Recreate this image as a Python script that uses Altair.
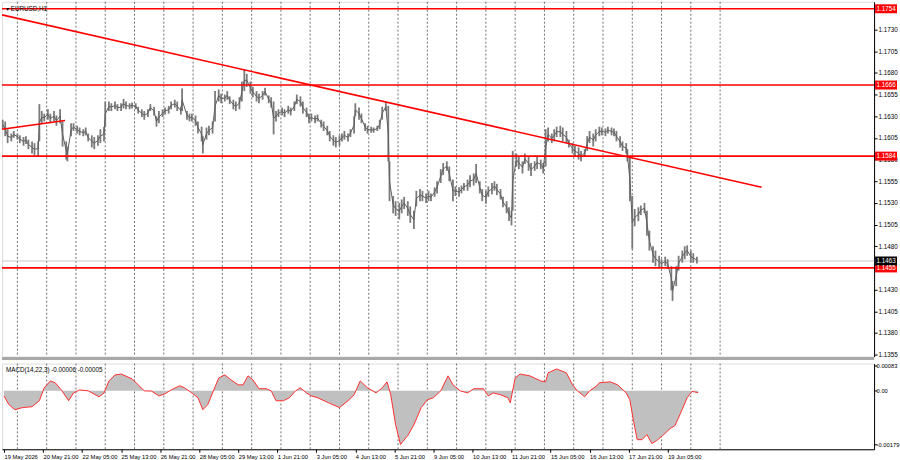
import altair as alt
import pandas as pd

# ---------------- data ----------------
# bar index 0 = 19 May 2026 13:00, one bar = one trading hour (H1)
bars = [-1, 1, 3, 6, 8, 11, 13, 16, 18, 20, 23, 25, 28, 29, 31, 33, 36, 38, 41, 43,
        46, 48, 51, 52, 55, 57, 60, 62, 65, 67, 69, 72, 74, 77, 79, 82, 83, 86, 88, 91,
        93, 96, 98, 100, 103, 105, 108, 110, 113, 115, 118, 120, 123, 125, 127, 130, 132, 135, 137, 140,
        142, 145, 146, 150, 152, 154, 157, 159, 162, 163, 166, 168, 171, 173, 176, 178, 181, 183, 185, 188,
        190, 193, 195, 197, 199, 202, 204, 207, 209, 212, 214, 217, 219, 221, 223, 225, 228, 230, 233, 235,
        238, 240, 243, 245, 248, 250, 252, 255, 257, 260, 262, 265, 267, 270, 272, 275, 277, 279, 282, 284,
        287, 288, 291, 293, 296, 298, 301, 303, 306, 308, 310, 313, 315, 316, 319, 321, 324, 326, 328, 331,
        333, 336, 338, 341, 343, 346, 348, 350, 353, 355, 358, 360, 363, 365, 368, 370, 373, 375, 377, 380,
        382, 385, 387, 390, 392, 395, 397, 400, 402, 404, 407, 409, 412, 414, 416, 417, 420, 422, 425, 427,
        430, 432, 435, 437, 440, 442, 444, 446, 449, 451, 453, 456, 458, 461, 463, 466, 468, 471, 473, 476,
        478, 480, 483, 485, 488, 490, 493, 495, 498, 500, 502, 505, 507, 510, 511, 513, 515, 517, 520, 522,
        525, 527, 529, 532, 534, 537, 539, 542, 544, 547, 548, 551, 553, 556, 558, 560, 563, 565, 568]

highs = [1.1626, 1.1624, 1.1615, 1.1610, 1.1613, 1.1610, 1.1608, 1.1606, 1.1607, 1.1603, 1.1601, 1.1599, 1.1601, 1.1644, 1.1636, 1.1633, 1.1638, 1.1633, 1.1636, 1.1631,
         1.1638, 1.1624, 1.1601, 1.1595, 1.1622, 1.1622, 1.1619, 1.1617, 1.1615, 1.1617, 1.1610, 1.1608, 1.1606, 1.1608, 1.1615, 1.1618, 1.1647, 1.1647, 1.1645, 1.1647,
         1.1644, 1.1645, 1.1650, 1.1647, 1.1645, 1.1646, 1.1645, 1.1641, 1.1638, 1.1636, 1.1638, 1.1644, 1.1641, 1.1630, 1.1636, 1.1638, 1.1640, 1.1642, 1.1647, 1.1649,
         1.1647, 1.1641, 1.1662, 1.1636, 1.1633, 1.1633, 1.1631, 1.1624, 1.1618, 1.1607, 1.1617, 1.1619, 1.1624, 1.1659, 1.1661, 1.1656, 1.1655, 1.1659, 1.1653, 1.1649,
         1.1647, 1.1652, 1.1670, 1.1684, 1.1679, 1.1670, 1.1664, 1.1659, 1.1656, 1.1659, 1.1663, 1.1654, 1.1652, 1.1647, 1.1636, 1.1638, 1.1640, 1.1638, 1.1642, 1.1640,
         1.1647, 1.1655, 1.1653, 1.1647, 1.1640, 1.1633, 1.1633, 1.1631, 1.1632, 1.1626, 1.1624, 1.1619, 1.1613, 1.1608, 1.1606, 1.1608, 1.1610, 1.1613, 1.1610, 1.1615,
         1.1630, 1.1645, 1.1640, 1.1633, 1.1622, 1.1619, 1.1618, 1.1617, 1.1619, 1.1626, 1.1641, 1.1646, 1.1642, 1.1578, 1.1538, 1.1532, 1.1530, 1.1534, 1.1537, 1.1532,
         1.1526, 1.1521, 1.1544, 1.1546, 1.1544, 1.1541, 1.1544, 1.1541, 1.1548, 1.1555, 1.1569, 1.1576, 1.1578, 1.1572, 1.1557, 1.1549, 1.1548, 1.1550, 1.1553, 1.1557,
         1.1562, 1.1564, 1.1575, 1.1555, 1.1546, 1.1544, 1.1549, 1.1553, 1.1555, 1.1552, 1.1546, 1.1537, 1.1532, 1.1525, 1.1521, 1.1590, 1.1587, 1.1584, 1.1578, 1.1587,
         1.1584, 1.1576, 1.1578, 1.1584, 1.1580, 1.1576, 1.1615, 1.1617, 1.1610, 1.1615, 1.1618, 1.1619, 1.1617, 1.1613, 1.1603, 1.1599, 1.1596, 1.1594, 1.1590, 1.1592,
         1.1607, 1.1613, 1.1610, 1.1615, 1.1618, 1.1617, 1.1616, 1.1618, 1.1617, 1.1616, 1.1613, 1.1607, 1.1601, 1.1599, 1.1592, 1.1584, 1.1538, 1.1523, 1.1525, 1.1527,
         1.1530, 1.1521, 1.1498, 1.1480, 1.1475, 1.1469, 1.1465, 1.1468, 1.1465, 1.1457, 1.1440, 1.1457, 1.1469, 1.1475, 1.1480, 1.1481, 1.1475, 1.1472, 1.1468]

lows = [1.1615, 1.1607, 1.1599, 1.1601, 1.1605, 1.1603, 1.1599, 1.1596, 1.1598, 1.1592, 1.1587, 1.1585, 1.1584, 1.1601, 1.1622, 1.1624, 1.1626, 1.1622, 1.1624, 1.1619,
        1.1622, 1.1595, 1.1580, 1.1578, 1.1607, 1.1613, 1.1610, 1.1608, 1.1607, 1.1608, 1.1601, 1.1594, 1.1592, 1.1596, 1.1599, 1.1601, 1.1618, 1.1636, 1.1636, 1.1638,
        1.1636, 1.1636, 1.1639, 1.1638, 1.1638, 1.1639, 1.1638, 1.1633, 1.1629, 1.1626, 1.1629, 1.1636, 1.1631, 1.1618, 1.1622, 1.1629, 1.1632, 1.1633, 1.1638, 1.1640,
        1.1636, 1.1632, 1.1636, 1.1626, 1.1624, 1.1624, 1.1619, 1.1610, 1.1601, 1.1587, 1.1603, 1.1608, 1.1610, 1.1624, 1.1647, 1.1645, 1.1647, 1.1649, 1.1644, 1.1638,
        1.1636, 1.1638, 1.1647, 1.1659, 1.1664, 1.1656, 1.1652, 1.1647, 1.1645, 1.1649, 1.1654, 1.1645, 1.1640, 1.1609, 1.1624, 1.1629, 1.1631, 1.1629, 1.1633, 1.1631,
        1.1636, 1.1644, 1.1641, 1.1633, 1.1629, 1.1622, 1.1624, 1.1622, 1.1624, 1.1617, 1.1613, 1.1608, 1.1601, 1.1596, 1.1594, 1.1596, 1.1601, 1.1603, 1.1601, 1.1606,
        1.1610, 1.1630, 1.1626, 1.1622, 1.1613, 1.1610, 1.1611, 1.1611, 1.1613, 1.1615, 1.1626, 1.1636, 1.1578, 1.1532, 1.1518, 1.1515, 1.1511, 1.1518, 1.1523, 1.1515,
        1.1507, 1.1500, 1.1526, 1.1532, 1.1532, 1.1530, 1.1532, 1.1532, 1.1537, 1.1541, 1.1553, 1.1562, 1.1567, 1.1555, 1.1532, 1.1538, 1.1537, 1.1541, 1.1544, 1.1544,
        1.1548, 1.1550, 1.1553, 1.1541, 1.1532, 1.1529, 1.1537, 1.1540, 1.1544, 1.1539, 1.1534, 1.1525, 1.1518, 1.1509, 1.1504, 1.1521, 1.1572, 1.1569, 1.1564, 1.1575,
        1.1567, 1.1561, 1.1567, 1.1569, 1.1569, 1.1564, 1.1572, 1.1601, 1.1599, 1.1601, 1.1606, 1.1606, 1.1601, 1.1599, 1.1594, 1.1587, 1.1584, 1.1580, 1.1578, 1.1583,
        1.1590, 1.1599, 1.1595, 1.1601, 1.1607, 1.1608, 1.1607, 1.1610, 1.1608, 1.1607, 1.1601, 1.1594, 1.1590, 1.1587, 1.1578, 1.1532, 1.1477, 1.1503, 1.1509, 1.1516,
        1.1518, 1.1492, 1.1475, 1.1461, 1.1457, 1.1455, 1.1455, 1.1457, 1.1454, 1.1429, 1.1417, 1.1434, 1.1452, 1.1461, 1.1465, 1.1469, 1.1461, 1.1461, 1.1460]

macd_bars = [0, 4, 9, 15, 23, 29, 33, 38, 42, 47, 53, 57, 62, 69, 78, 82, 86, 91, 96, 105,
             110, 115, 121, 127, 132, 137, 144, 148, 154, 159, 163, 167, 172, 176, 181, 186, 192, 196, 200, 204,
             209, 215, 219, 223, 229, 234, 239, 243, 248, 252, 257, 266, 275, 282, 287, 292, 298, 305, 310, 314,
             317, 321, 325, 331, 336, 342, 347, 352, 358, 364, 368, 374, 380, 385, 393, 397, 401, 407, 413, 415,
             419, 423, 431, 440, 444, 446, 453, 461, 466, 470, 476, 480, 486, 488, 497, 503, 510, 513, 516, 519,
             523, 527, 531, 535, 540, 546, 550, 554, 560, 564, 569]
macd_vals = [-0.00017, -0.00046, -0.00063, -0.00056, -0.00053, -0.00033, 0.00010, 0.00033, 0.00027, 0.00003,
             -0.00033, -0.00007, 0.00003, 0.00000, -0.00020, -0.00007, 0.00033, 0.00053, 0.00056, 0.00040,
             0.00020, 0.00000, -0.00001, -0.00017, -0.00010, 0.00003, 0.00017, 0.00010, -0.00007, -0.00023,
             -0.00063, -0.00046, 0.00003, 0.00043, 0.00053, 0.00037, 0.00020, 0.00020, 0.00050, 0.00037,
             0.00007, 0.00007, 0.00000, -0.00033, -0.00033, -0.00023, 0.00000, 0.00010, -0.00007, -0.00017,
             -0.00023, -0.00040, -0.00056, -0.00033, -0.00013, 0.00033, 0.00010, -0.00007, 0.00010, 0.00030,
             -0.00013, -0.00113, -0.00179, -0.00149, -0.00113, -0.00056, -0.00030, -0.00023, 0.00000, 0.00050,
             0.00020, 0.00000, -0.00007, 0.00007, 0.00007, -0.00017, -0.00007, -0.00013, -0.00023, -0.00040,
             0.00043, 0.00056, 0.00050, 0.00033, 0.00030, 0.00060, 0.00073, 0.00060, 0.00020, 0.00000,
             -0.00020, 0.00000, 0.00017, 0.00027, 0.00030, 0.00020, -0.00007, -0.00030, -0.00100, -0.00163,
             -0.00163, -0.00146, -0.00176, -0.00166, -0.00149, -0.00126, -0.00116, -0.00080, -0.00023, -0.00002,
             -0.00006]

# time-axis labels, one every 32 bars
time_labels = ["19 May 2026", "20 May 21:00", "22 May 05:00", "25 May 13:00", "26 May 21:00",
               "28 May 05:00", "29 May 13:00", "1 Jun 21:00", "3 Jun 05:00", "4 Jun 13:00",
               "5 Jun 21:00", "9 Jun 05:00", "10 Jun 13:00", "11 Jun 21:00", "15 Jun 05:00",
               "16 Jun 13:00", "17 Jun 21:00", "19 Jun 05:00"]
time_ticks = [0, 32, 64, 96, 128, 160, 192, 224, 256, 288, 320, 352, 384, 416, 448, 480, 512, 544]
# day separators (first bar of each trading day)
day_starts = [11, 35, 59, 83, 107, 131, 155, 179, 203, 227, 251, 275, 299, 323, 347, 371,
              395, 419, 443, 467, 491, 515, 539, 563, 587]

price_ticks = [1.1355, 1.1380, 1.1405, 1.1430, 1.1480, 1.1505, 1.1530, 1.1555, 1.1580,
               1.1605, 1.1630, 1.1655, 1.1680, 1.1705, 1.1730]
levels = [1.1754, 1.1666, 1.1584, 1.1455]
bid_price = 1.1463

trend_id = ["down", "down", "up", "up"]
trend_bar = [-1.6, 621, -1.6, 50]
trend_price = [1.1747, 1.1548, 1.1615, 1.1625]

macd_ticks = [0.00083, 0.0, -0.00179]
title_text = "▾ EURUSD,H1"
macd_text = "MACD(14,22,3) -0.00006 -0.00005"

assert len(bars) == len(highs) == len(lows), (len(bars), len(highs), len(lows))
assert len(macd_bars) == len(macd_vals), (len(macd_bars), len(macd_vals))

# ---------------- tables ----------------
price_df = pd.DataFrame({"bar": bars, "high": highs, "low": lows})
price_df["mid"] = (price_df["high"] + price_df["low"]) / 2
macd_df = pd.DataFrame({"bar": macd_bars, "macd": macd_vals})
days_df = pd.DataFrame({"bar": day_starts})
levels_df = pd.DataFrame({"price": levels})
trend_df = pd.DataFrame({"id": trend_id, "bar": trend_bar, "price": trend_price})
box_df = pd.DataFrame({
    "price": levels + [bid_price],
    "label": [f"{v:.4f}" for v in levels] + [f"{bid_price:.4f}"],
    "bg": ["#ff0000"] * len(levels) + ["#000000"],
})

FONT = "Liberation Sans"
FS = 6.3
W, H1, H2 = 875, 356, 86

xs = alt.Scale(domain=[-1.63, 713.2], nice=False, zero=False)
ys = alt.Scale(domain=[1.13527, 1.17621], nice=False, zero=False)
ms = alt.Scale(domain=[-0.00195, 0.00091], nice=False, zero=False)

price_axis = alt.Axis(orient="right", values=price_ticks, format=".4f", title=None, grid=False,
                      labelFontSize=FS, labelFont=FONT, labelColor="black", tickSize=3,
                      tickColor="black", domainColor="black", labelPadding=1)
x_label_expr = "[" + ",".join(f"'{t}'" for t in time_labels) + "][round(datum.value/32)]"
x_axis = alt.Axis(values=time_ticks, labelExpr=x_label_expr, title=None, grid=False,
                  labelAlign="left", labelFontSize=5.8, labelFont=FONT, labelColor="black",
                  tickSize=3, tickColor="black", domainColor="black", labelPadding=1,
                  labelOverlap=False, labelFlush=False)
macd_axis = alt.Axis(orient="right", values=macd_ticks, title=None, grid=False,
                     labelExpr="datum.value > 0.0005 ? '0.00083' : (datum.value < -0.001 ? '-0.00179' : '0.00')",
                     labelFontSize=5.8, labelFont=FONT, labelColor="black", tickSize=3,
                     tickColor="black", domainColor="black", labelPadding=-1)

GRID_COLOR = "#707070"
PRICE_COLOR = "#7a7a7a"

# ---------- main panel ----------
grid_main = alt.Chart(days_df).mark_rule(color=GRID_COLOR, strokeDash=[2, 2], strokeWidth=1).encode(
    x=alt.X("bar:Q", scale=xs, axis=None))
price_rules = alt.Chart(price_df).mark_rule(color=PRICE_COLOR, strokeWidth=1.8).encode(
    x=alt.X("bar:Q", scale=xs, axis=None),
    y=alt.Y("low:Q", scale=ys, axis=price_axis),
    y2="high:Q")
price_line = alt.Chart(price_df).mark_line(color="#5f5f5f", strokeWidth=1).encode(
    x=alt.X("bar:Q", scale=xs, axis=None),
    y=alt.Y("mid:Q", scale=ys, axis=price_axis))
bid_rule = alt.Chart(pd.DataFrame({"price": [bid_price]})).mark_rule(color="#c8c8c8", strokeWidth=1).encode(
    y=alt.Y("price:Q", scale=ys, axis=price_axis))
level_rules = alt.Chart(levels_df).mark_rule(color="#ff0000", strokeWidth=1.6).encode(
    y=alt.Y("price:Q", scale=ys, axis=price_axis))
trend_lines = alt.Chart(trend_df).mark_line(color="#ff0000", strokeWidth=1.6, clip=True).encode(
    x=alt.X("bar:Q", scale=xs, axis=None),
    y=alt.Y("price:Q", scale=ys, axis=price_axis),
    detail="id:N")

box_shape = "M-1.1,-0.45L1.1,-0.45L1.1,0.45L-1.1,0.45Z"
boxes = alt.Chart(box_df).mark_point(shape=box_shape, filled=True, size=400, opacity=1, strokeWidth=0).encode(
    x=alt.value(887), y=alt.Y("price:Q", scale=ys, axis=price_axis),
    color=alt.Color("bg:N", scale=None))
box_text = alt.Chart(box_df).mark_text(color="white", fontSize=FS, font=FONT, align="center",
                                       baseline="middle").encode(
    x=alt.value(887), y=alt.Y("price:Q", scale=ys, axis=price_axis), text="label:N")

# panel separator band
separator = alt.Chart(pd.DataFrame({"s": [0]})).mark_rule(color="#a8a8a8", strokeWidth=3).encode(
    x=alt.value(0), x2=alt.value(W), y=alt.value(H1 + 2))

title = alt.Chart(pd.DataFrame({"t": [title_text]})).mark_text(
    align="left", baseline="middle", fontSize=FS, font=FONT, color="black").encode(
    x=alt.value(4), y=alt.value(7), text="t:N")

top = alt.layer(grid_main, bid_rule, price_rules, price_line, level_rules, trend_lines,
                boxes, box_text, separator, title).properties(width=W, height=H1)

# ---------- MACD panel ----------
grid_macd = alt.Chart(days_df).mark_rule(color=GRID_COLOR, strokeDash=[2, 2], strokeWidth=1).encode(
    x=alt.X("bar:Q", scale=xs, axis=x_axis))
macd_area = alt.Chart(macd_df).mark_area(color="#c0c0c0", opacity=1).encode(
    x=alt.X("bar:Q", scale=xs, axis=x_axis),
    y=alt.Y("macd:Q", scale=ms, axis=macd_axis),
    y2=alt.datum(0))
macd_line = alt.Chart(macd_df).mark_line(color="#ff3030", strokeWidth=1).encode(
    x=alt.X("bar:Q", scale=xs, axis=x_axis),
    y=alt.Y("macd:Q", scale=ms, axis=macd_axis))
macd_title = alt.Chart(pd.DataFrame({"t": [macd_text]})).mark_text(
    align="left", baseline="middle", fontSize=FS, font=FONT, color="black").encode(
    x=alt.value(4), y=alt.value(6), text="t:N")

bottom = alt.layer(grid_macd, macd_area, macd_line, macd_title).properties(width=W, height=H2)

chart = alt.vconcat(top, bottom, spacing=1).properties(
    padding={"left": 0, "top": 0, "right": 0, "bottom": 0}
).configure_view(stroke="black", strokeWidth=1).configure(background="white")

chart.save("out.html", embed_options={"renderer": "svg", "actions": False})
